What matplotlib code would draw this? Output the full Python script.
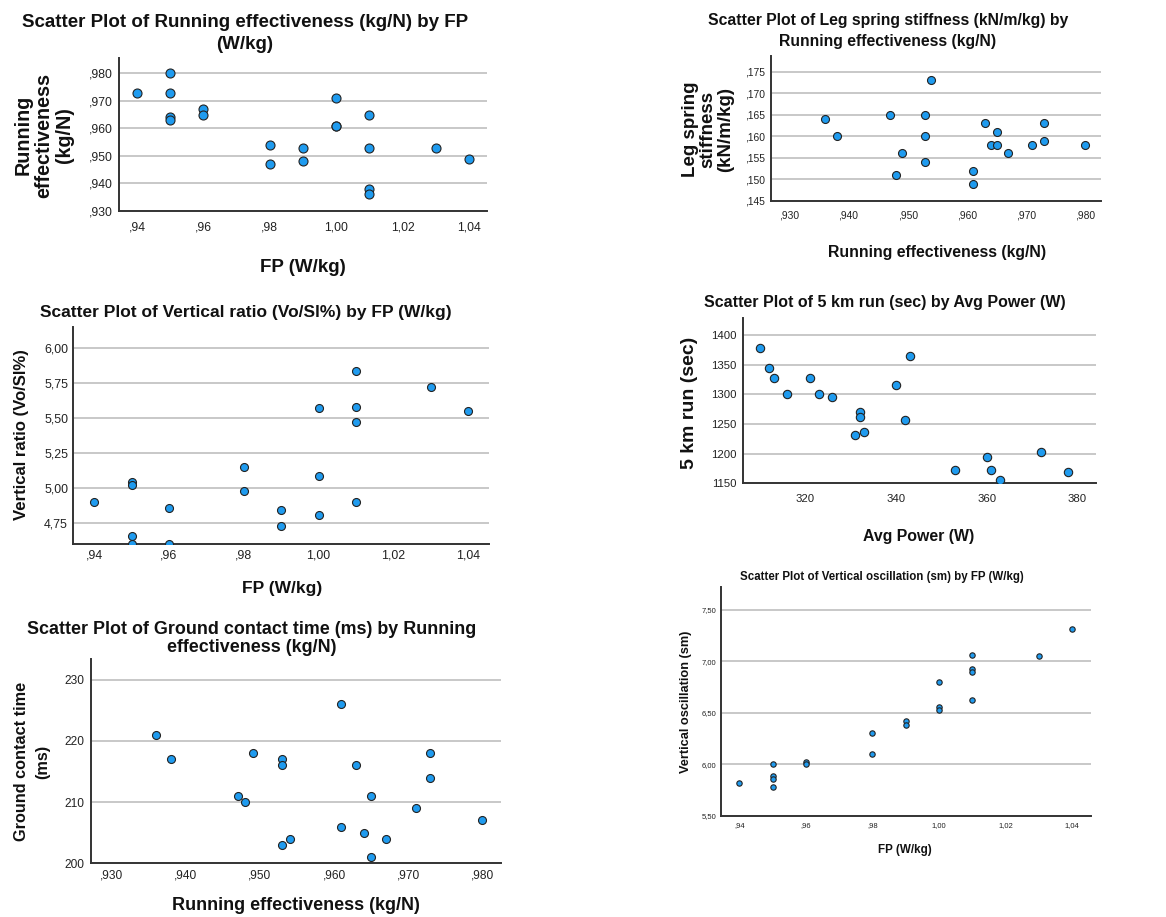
import matplotlib
matplotlib.use("Agg")
import matplotlib.pyplot as plt
from matplotlib.ticker import FuncFormatter, MultipleLocator

# ==========================
# Data
# ==========================
# Panel A: Running effectiveness by FP
fp_a = [0.94, 0.95, 0.95, 0.95, 0.95, 0.96, 0.96, 0.98, 0.98, 0.99, 0.99,
        1.00, 1.00, 1.00, 1.01, 1.01, 1.01, 1.01, 1.03, 1.04]
re_a = [0.973, 0.980, 0.973, 0.964, 0.963, 0.967, 0.965, 0.954, 0.947, 0.953, 0.948,
        0.971, 0.961, 0.961, 0.965, 0.953, 0.938, 0.936, 0.953, 0.949]

# Panel B: Leg spring stiffness by Running effectiveness
re_b = [0.936, 0.938, 0.947, 0.948, 0.949, 0.953, 0.953, 0.953, 0.954, 0.961,
        0.961, 0.963, 0.964, 0.965, 0.965, 0.967, 0.971, 0.973, 0.973, 0.980]
lss_b = [0.164, 0.160, 0.165, 0.151, 0.156, 0.165, 0.160, 0.154, 0.173, 0.152,
         0.149, 0.163, 0.158, 0.161, 0.158, 0.156, 0.158, 0.163, 0.159, 0.158]

# Panel C: Vertical ratio by FP
fp_c = [0.94, 0.95, 0.95, 0.95, 0.95, 0.96, 0.96, 0.98, 0.98, 0.99, 0.99,
        1.00, 1.00, 1.00, 1.01, 1.01, 1.01, 1.01, 1.03, 1.04]
vr_c = [4.90, 5.04, 5.02, 4.66, 4.60, 4.86, 4.60, 5.15, 4.98, 4.84, 4.73,
        5.57, 5.09, 4.81, 5.84, 5.58, 5.47, 4.90, 5.72, 5.55]

# Panel D: 5 km run by Avg Power
power_d = [310, 312, 313, 316, 321, 323, 326, 332, 332, 331,
           333, 340, 342, 343, 353, 360, 361, 363, 372, 378]
run5k_d = [1378, 1345, 1327, 1300, 1328, 1300, 1295, 1270, 1262, 1232,
           1236, 1315, 1257, 1365, 1173, 1195, 1173, 1155, 1203, 1169]

# Panel E: Ground contact time by Running effectiveness
re_e = [0.936, 0.938, 0.947, 0.948, 0.949, 0.953, 0.953, 0.953, 0.954, 0.961,
        0.961, 0.963, 0.964, 0.965, 0.965, 0.967, 0.971, 0.973, 0.973, 0.980]
gct_e = [221, 217, 211, 210, 218, 217, 216, 203, 204, 226,
         206, 216, 205, 211, 201, 204, 209, 218, 214, 207]

# Panel F: Vertical oscillation by FP
fp_f = [0.94, 0.95, 0.95, 0.95, 0.95, 0.96, 0.96, 0.98, 0.98, 0.99, 0.99,
        1.00, 1.00, 1.00, 1.01, 1.01, 1.01, 1.01, 1.03, 1.04]
vo_f = [5.82, 6.00, 5.89, 5.86, 5.78, 6.02, 6.00, 6.31, 6.10, 6.42, 6.38,
        6.80, 6.56, 6.53, 7.06, 6.93, 6.90, 6.63, 7.05, 7.32]

# ==========================
# Style
# ==========================
W, H = 1166, 917
FONT = ["Liberation Sans", "DejaVu Sans"]
dot_face = "#1f9bef"
dot_edge = "#222222"
grid_gray = "#c4c4c4"
spine_col = "#333333"

plt.rcParams["font.family"] = FONT


def spss_fmt(dec):
    # SPSS style: comma decimal, no leading zero
    def f(v, _):
        s = f"{v:.{dec}f}".replace(".", ",")
        if s.startswith("0,"):
            s = s[1:]
        return s
    return FuncFormatter(f)


def px(x, y):
    return x / W, 1 - y / H


def add_panel(fig, box, x, y, xlim, ylim, xstep, ystep, xdec, ydec,
              s, tick_fs, xpad, ypad):
    left, top, right, bottom = box
    ax = fig.add_axes([left / W, 1 - bottom / H, (right - left) / W, (bottom - top) / H])
    ax.scatter(x, y, s=s, color=dot_face, edgecolor=dot_edge, linewidth=0.8, zorder=3)
    ax.set_xlim(*xlim)
    ax.set_ylim(*ylim)
    ax.xaxis.set_major_locator(MultipleLocator(xstep))
    ax.yaxis.set_major_locator(MultipleLocator(ystep))
    ax.xaxis.set_major_formatter(spss_fmt(xdec))
    ax.yaxis.set_major_formatter(spss_fmt(ydec))
    ax.grid(axis="y", color=grid_gray, lw=1.3)
    ax.set_axisbelow(True)
    for side in ["top", "right"]:
        ax.spines[side].set_visible(False)
    for side in ["left", "bottom"]:
        ax.spines[side].set_color(spine_col)
        ax.spines[side].set_linewidth(1.4)
    ax.tick_params(axis="x", length=0, pad=xpad, labelsize=tick_fs, labelcolor="#222222")
    ax.tick_params(axis="y", length=0, pad=ypad, labelsize=tick_fs, labelcolor="#222222")
    return ax


def label(fig, xy, text, fs, rot=0, ls=1.0):
    fig.text(*px(*xy), text, fontsize=fs, fontweight="bold", rotation=rot,
             ha="center", va="center", linespacing=ls, color="#111111")


fig = plt.figure(figsize=(W / 100, H / 100), dpi=100)

# --- A ---
add_panel(fig, (119, 58, 487, 211), fp_a, re_a, (0.9346, 1.0454), (0.930, 0.9856),
          0.02, 0.01, 2, 3, 42, 8.8, 7.5, 4.5)
label(fig, (245, 33.5), "Scatter Plot of Running effectiveness (kg/N) by FP\n(W/kg)", 13.5, ls=1.36)
label(fig, (44, 135), "Running\neffectiveness\n(kg/N)", 14.2, rot=90, ls=1.1)
label(fig, (303, 267), "FP (W/kg)", 13.5)

# --- B ---
add_panel(fig, (770.7, 56, 1101, 200.7), re_b, lss_b, (0.92686, 0.98265), (0.145, 0.1787),
          0.01, 0.005, 3, 3, 33, 7.4, 7.0, 4.2)
label(fig, (888, 31), "Scatter Plot of Leg spring stiffness (kN/m/kg) by\nRunning effectiveness (kg/N)",
      11.3, ls=1.45)
label(fig, (708, 129), "Leg spring\nstiffness\n(kN/m/kg)", 13.5, rot=90, ls=1.03)
label(fig, (937, 253), "Running effectiveness (kg/N)", 11.4)

# --- C ---
add_panel(fig, (73.3, 326.7, 489, 543.7), fp_c, vr_c, (0.9344, 1.0456), (4.602, 6.155),
          0.02, 0.25, 2, 2, 33, 8.9, 4.2, 3.8)
label(fig, (246, 312), "Scatter Plot of Vertical ratio (Vo/Sl%) by FP (W/kg)", 12.5)
label(fig, (22, 435), "Vertical ratio (Vo/Sl%)", 12.1, rot=90)
label(fig, (282, 588), "FP (W/kg)", 12.5)

# --- D ---
add_panel(fig, (742.7, 318.3, 1096, 483.3), power_d, run5k_d, (306.2, 384.1), (1150, 1428),
          20, 50, 0, 0, 36, 8.2, 8.0, 4.5)
label(fig, (885, 302.7), "Scatter Plot of 5 km run (sec) by Avg Power (W)", 11.5)
label(fig, (690, 402.5), "5 km run (sec)", 14.0, rot=90)
label(fig, (919, 536.7), "Avg Power (W)", 11.4)

# --- E ---
add_panel(fig, (91, 659.3, 500.7, 863.3), re_e, gct_e, (0.9272, 0.9825), (200, 233.3),
          0.01, 10, 3, 0, 33, 8.6, 4.6, 4.5)
label(fig, (252, 638.5), "Scatter Plot of Ground contact time (ms) by Running\neffectiveness (kg/N)",
      12.9, ls=1.05)
label(fig, (32, 761.7), "Ground contact time\n(ms)", 11.7, rot=90, ls=1.5)
label(fig, (296, 905), "Running effectiveness (kg/N)", 13.0)

# --- F ---
add_panel(fig, (721.3, 587.3, 1090.7, 816), fp_f, vo_f, (0.9346, 1.0456), (5.5, 7.72),
          0.02, 0.5, 2, 2, 15, 5.5, 4.2, 3.3)
label(fig, (881.7, 576.7), "Scatter Plot of Vertical oscillation (sm) by FP (W/kg)", 8.3)
label(fig, (686, 701.7), "Vertical oscillation (sm)", 9.2, rot=90)
label(fig, (905, 850), "FP (W/kg)", 8.4)

fig.savefig("out.png", dpi=100)
plt.close(fig)
